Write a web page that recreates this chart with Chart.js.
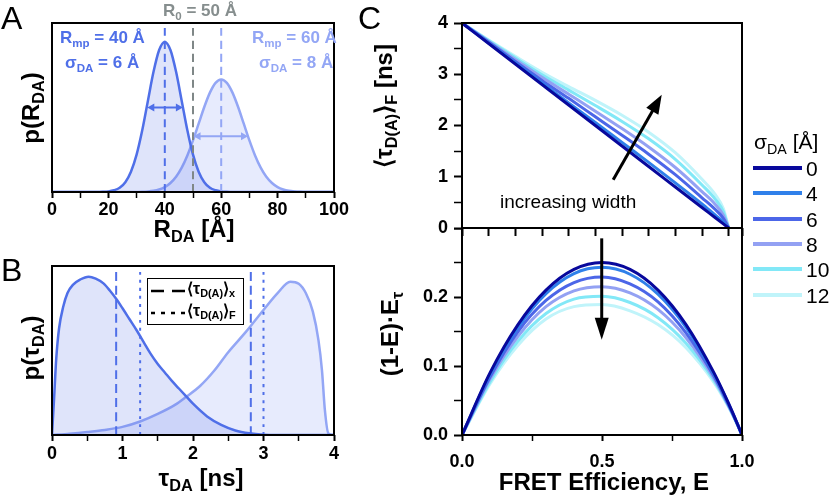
<!DOCTYPE html>
<html>
<head>
<meta charset="utf-8">
<script src="https://cdn.jsdelivr.net/npm/chart.js@4.4.1/dist/chart.umd.min.js"></script>
<style>
body { margin:0; background:#fff; width:829px; height:499px; position:relative; overflow:hidden;
       font-family:"Liberation Sans", Arial, sans-serif; }
canvas { position:absolute; }
.t { position:absolute; white-space:nowrap; line-height:1; }
.b { font-weight:bold; }
.rot { transform:translate(-50%,-50%) rotate(-90deg); }
.ctr { transform:translate(-50%,-50%); }
sub { font-size:0.68em; vertical-align:-0.32em; line-height:0; }
.lg { position:absolute; height:4px; width:49px; left:753px; }
.lt { position:absolute; left:806px; font-size:21px; line-height:1; transform:translateY(-50%); }
</style>
</head>
<body>

<canvas id="chA" width="360" height="250" style="left:0;top:0"></canvas>
<canvas id="chB" width="360" height="249" style="left:0;top:250px"></canvas>
<canvas id="chC1" width="370" height="240" style="left:400px;top:0"></canvas>
<canvas id="chC2" width="370" height="271" style="left:400px;top:228px"></canvas>

<!-- panel letters -->
<div class="t" style="left:1px;top:2px;font-size:32px">A</div>
<div class="t" style="left:1px;top:254px;font-size:32px">B</div>
<div class="t" style="left:358px;top:2px;font-size:32px">C</div>

<!-- panel A text -->
<div class="t b" style="left:200px;top:2px;font-size:17px;color:#868e8e" id="r0"></div>
<div class="t b" style="left:60px;top:29px;font-size:17px;color:#4f6fe8">R<sub>mp</sub> = 40 Å</div>
<div class="t b" style="left:65px;top:54px;font-size:17px;color:#4f6fe8">σ<sub>DA</sub> = 6 Å</div>
<div class="t b" style="left:252px;top:29px;font-size:17px;color:#93a6f5">R<sub>mp</sub> = 60 Å</div>
<div class="t b" style="left:259px;top:54px;font-size:17px;color:#93a6f5">σ<sub>DA</sub> = 8 Å</div>
<div class="t b rot" style="left:31px;top:108px;font-size:24px">p(R<sub>DA</sub>)</div>
<div class="t b ctr" style="left:194px;top:229px;font-size:24px">R<sub>DA</sub> [Å]</div>

<!-- panel B text -->
<div class="t b rot" style="left:31px;top:348px;font-size:24px">p(τ<sub>DA</sub>)</div>
<div class="t b ctr" style="left:201px;top:478px;font-size:24px">τ<sub>DA</sub> [ns]</div>
<div style="position:absolute;left:147px;top:278px;width:97px;height:47px;border:1.5px solid #000;box-sizing:border-box;background:#fff"></div>
<svg style="position:absolute;left:147px;top:278px" width="100" height="48">
  <line x1="4" y1="13" x2="38" y2="13" stroke="#000" stroke-width="2.5" stroke-dasharray="13,8"/>
  <line x1="4" y1="35" x2="38" y2="35" stroke="#000" stroke-width="2.5" stroke-dasharray="4,6"/>
</svg>
<div class="t b" style="left:187px;top:281px;font-size:16px">⟨τ<sub>D(A)</sub>⟩<sub>x</sub></div>
<div class="t b" style="left:187px;top:303px;font-size:16px">⟨τ<sub>D(A)</sub>⟩<sub>F</sub></div>

<!-- panel C text -->
<div class="t b rot" style="left:384px;top:106px;font-size:24px">⟨τ<sub>D(A)</sub>⟩<sub>F</sub> [ns]</div>
<div class="t b rot" style="left:390px;top:334px;font-size:24px">(1-E)·E<sub>τ</sub></div>
<div class="t b ctr" style="left:604px;top:482px;font-size:24px">FRET Efficiency, E</div>
<div class="t" style="left:500px;top:192px;font-size:19px">increasing width</div>
<div class="t" style="left:754px;top:131px;font-size:21px">σ<sub>DA</sub> [Å]</div>
<div id="legC"></div>

<script>
// ---------- panel A : distance distributions ----------
const rDark = [0, 16, 18, 20, 22, 24, 26, 28, 30, 32, 34, 36, 38, 40, 42, 44, 46, 48, 50, 52, 54, 56, 58, 60, 62, 64, 100];
const pDark = [0, 0, 0.001, 0.003, 0.010, 0.025, 0.058, 0.120, 0.221, 0.365, 0.539, 0.711, 0.840, 0.888,
               0.840, 0.711, 0.539, 0.365, 0.221, 0.120, 0.058, 0.025, 0.010, 0.003, 0.001, 0, 0];
const rLight = [0, 28, 30, 32, 34, 36, 38, 40, 42, 44, 46, 48, 50, 52, 54, 56, 58, 60,
                62, 64, 66, 68, 70, 72, 74, 76, 78, 80, 82, 84, 86, 88, 90, 92, 100];
const pLight = [0, 0, 0.0005, 0.001, 0.003, 0.007, 0.015, 0.029, 0.053, 0.090, 0.144, 0.216, 0.305, 0.404, 0.503, 0.588, 0.646, 0.666,
                0.646, 0.588, 0.503, 0.404, 0.305, 0.216, 0.144, 0.090, 0.053, 0.029, 0.015, 0.007, 0.003, 0.001, 0.0005, 0, 0];
const rMarks = [40, 50, 60];           // R_mp (40), R0 (50), R_mp (60)
const fwhmA = [[33.8, 46.4, 0.50], [50.2, 69.5, 0.33]];   // [from, to, height]

// ---------- panel B : lifetime distributions ----------
const tDark = [0, 0.03, 0.06, 0.1, 0.16, 0.22, 0.3, 0.4, 0.52, 0.62, 0.73, 0.82, 0.92, 1.0, 1.1, 1.2, 1.3, 1.4, 1.5, 1.6,
               1.7, 1.8, 1.9, 2.0, 2.2, 2.4, 2.6, 2.8, 3.0, 3.2, 4.0];
const qDark = [0, 0.22, 0.45, 0.63, 0.76, 0.84, 0.89, 0.92, 0.937, 0.925, 0.897, 0.855, 0.80, 0.75, 0.685, 0.62, 0.55, 0.48, 0.42, 0.37,
               0.32, 0.275, 0.23, 0.185, 0.11, 0.06, 0.027, 0.01, 0.002, 0, 0];
const tLight = [0, 0.25, 0.5, 0.75, 1.0, 1.25, 1.5, 1.75, 1.9, 2.1, 2.3, 2.5, 2.75, 3.0, 3.2, 3.38, 3.5, 3.6, 3.7, 3.78, 3.83, 3.87, 3.92, 4.0];
const qLight = [0, 0.008, 0.018, 0.03, 0.048, 0.08, 0.125, 0.18, 0.225, 0.29, 0.38, 0.49, 0.61, 0.74, 0.84, 0.907, 0.895, 0.84, 0.73, 0.56, 0.38, 0.15, 0.01, 0];
const tauX = [0.91, 2.82];   // <tau>_x  (dashed)
const tauF = [1.25, 3.00];   // <tau>_F  (dotted)

// ---------- panel C ----------
const effE = [0, 0.1, 0.2, 0.3, 0.4, 0.5, 0.6, 0.7, 0.8, 0.9, 0.95, 0.98, 1.0];
const sigmas = ['0', '4', '6', '8', '10', '12'];
const sigColors = ['#08089c', '#2f80ea', '#4c66e8', '#93a1f3', '#82e8f7', '#c0f4fa'];
const tauFluo = [
  [4, 3.60, 3.20, 2.80, 2.40, 2.00, 1.60, 1.20, 0.80, 0.40, 0.20, 0.08, 0],
  [4, 3.61, 3.22, 2.83, 2.44, 2.06, 1.67, 1.28, 0.88, 0.47, 0.25, 0.12, 0],
  [4, 3.63, 3.25, 2.88, 2.53, 2.17, 1.81, 1.44, 1.04, 0.59, 0.36, 0.19, 0],
  [4, 3.64, 3.29, 2.94, 2.61, 2.28, 1.94, 1.58, 1.18, 0.71, 0.46, 0.25, 0],
  [4, 3.66, 3.32, 2.99, 2.69, 2.39, 2.08, 1.74, 1.34, 0.84, 0.56, 0.32, 0],
  [4, 3.67, 3.35, 3.04, 2.76, 2.49, 2.20, 1.87, 1.47, 0.95, 0.65, 0.38, 0]
];
const oneMinusE = [
  [0, 0.090, 0.160, 0.210, 0.240, 0.250, 0.240, 0.210, 0.160, 0.090, 0.0475, 0.0196, 0],
  [0, 0.088, 0.156, 0.205, 0.234, 0.243, 0.233, 0.204, 0.156, 0.088, 0.047, 0.0194, 0],
  [0, 0.084, 0.150, 0.195, 0.221, 0.229, 0.219, 0.193, 0.148, 0.085, 0.045, 0.019, 0],
  [0, 0.081, 0.143, 0.186, 0.209, 0.215, 0.206, 0.182, 0.141, 0.082, 0.044, 0.0187, 0],
  [0, 0.077, 0.136, 0.176, 0.197, 0.201, 0.192, 0.170, 0.133, 0.079, 0.043, 0.0183, 0],
  [0, 0.074, 0.130, 0.168, 0.186, 0.189, 0.180, 0.160, 0.1265, 0.076, 0.042, 0.018, 0]
];
const arrowTop = [0.567, 0.94, 0.749, 2.6];     // E,tau -> E,tau
const arrowBot = [0.499, 0.285, 0.499, 0.138];

document.getElementById('r0').innerHTML = 'R<sub>0</sub> = ' + rMarks[1] + ' Å';
document.getElementById('r0').style.transform = 'translateX(-50%)';

const DARK = '#4f6fe8', LIGHT = '#93a6f5', GREY = '#7f8787';
const FONT = { family: 'Liberation Sans', size: 18, weight: 'bold' };

const pts = (xs, ys) => xs.map((x, i) => ({ x: x, y: ys[i] }));
const vline = (x, y0, y1, color, dash) => ({
  data: [{ x: x, y: y0 }, { x: x, y: y1 }], borderColor: color, borderWidth: 2,
  borderDash: dash, pointRadius: 0, fill: false
});

const boxPlugin = {
  id: 'box',
  afterDraw(chart) {
    const a = chart.chartArea, ctx = chart.ctx;
    ctx.save();
    ctx.strokeStyle = '#000';
    ctx.lineWidth = 2;
    ctx.strokeRect(a.left, a.top, a.right - a.left, a.bottom - a.top);
    ctx.restore();
  }
};

const arrowPlugin = {
  id: 'arrows',
  afterDatasetsDraw(chart, args, opts) {
    const ctx = chart.ctx, sx = chart.scales.x, sy = chart.scales.y;
    (opts.list || []).forEach(a => {
      const x1 = sx.getPixelForValue(a.x1), y1 = sy.getPixelForValue(a.y1);
      const x2 = sx.getPixelForValue(a.x2), y2 = sy.getPixelForValue(a.y2);
      const ang = Math.atan2(y2 - y1, x2 - x1);
      const head = (x, y, an) => {
        ctx.beginPath();
        ctx.moveTo(x, y);
        ctx.lineTo(x - a.L * Math.cos(an) + a.H * Math.sin(an), y - a.L * Math.sin(an) - a.H * Math.cos(an));
        ctx.lineTo(x - a.L * Math.cos(an) - a.H * Math.sin(an), y - a.L * Math.sin(an) + a.H * Math.cos(an));
        ctx.closePath();
        ctx.fill();
      };
      ctx.save();
      ctx.strokeStyle = a.color; ctx.fillStyle = a.color; ctx.lineWidth = a.w;
      ctx.beginPath();
      const s = a.both ? a.L * 0.8 : 0;
      ctx.moveTo(x1 + s * Math.cos(ang), y1 + s * Math.sin(ang));
      ctx.lineTo(x2 - a.L * 0.8 * Math.cos(ang), y2 - a.L * 0.8 * Math.sin(ang));
      ctx.stroke();
      head(x2, y2, ang);
      if (a.both) head(x1, y1, ang + Math.PI);
      ctx.restore();
    });
  }
};

// fixed axis sizes, no overflow padding, so the plot boxes land where wanted
const noPad = s => { s.paddingLeft = 0; s.paddingRight = 0; s.paddingTop = 0; s.paddingBottom = 0; };

function baseOpts(pad, yW, xH) {
  return {
    responsive: false, animation: false,
    layout: { padding: pad, autoPadding: false },
    plugins: { legend: { display: false }, tooltip: { enabled: false } },
    elements: { point: { radius: 0 }, line: { cubicInterpolationMode: 'monotone' } },
    scales: {
      x: { type: 'linear', afterFit: s => { s.height = xH; noPad(s); } },
      y: { type: 'linear', afterFit: s => { s.width = yW; noPad(s); } }
    }
  };
}

function tickGrid(len, isMajor) {
  return {
    drawOnChartArea: false, drawTicks: true, tickLength: len,
    color: '#000', tickColor: '#000',
    tickWidth: c => (isMajor(c.tick ? c.tick.value : 0) ? 2 : 1.5)
  };
}

// ----- chart A -----
const optA = baseOpts({ top: 23, right: 26, left: 0, bottom: 0 }, 52, 58);
optA.scales.x = Object.assign(optA.scales.x, {
  min: 0, max: 100, border: { display: false },
  ticks: { stepSize: 10, autoSkip: false, maxRotation: 0, color: '#000', font: FONT, padding: 1,
           callback: v => (v % 20 === 0 ? v : '') },
  grid: tickGrid(6, v => v % 20 === 0)
});
optA.scales.y = Object.assign(optA.scales.y, {
  min: 0, max: 1, border: { display: false }, ticks: { display: false }, grid: { display: false }
});
optA.plugins.arrows = {
  list: [
    { x1: fwhmA[0][0], y1: fwhmA[0][2], x2: fwhmA[0][1], y2: fwhmA[0][2], both: true, color: DARK, w: 2, L: 7, H: 4 },
    { x1: fwhmA[1][0], y1: fwhmA[1][2], x2: fwhmA[1][1], y2: fwhmA[1][2], both: true, color: LIGHT, w: 2, L: 7, H: 4 }
  ]
};
new Chart(document.getElementById('chA'), {
  type: 'line',
  data: {
    datasets: [
      vline(rMarks[0], 0, 1, DARK, [8, 5]),
      vline(rMarks[2], 0, 1, LIGHT, [8, 5]),
      vline(rMarks[1], 0, 1, GREY, [8, 5]),
      { data: pts(rDark, pDark), borderColor: DARK, borderWidth: 2.5, fill: 'origin', backgroundColor: 'rgba(95,120,232,0.20)' },
      { data: pts(rLight, pLight), borderColor: LIGHT, borderWidth: 2.5, fill: 'origin', backgroundColor: 'rgba(147,166,245,0.22)' }
    ]
  },
  options: optA,
  plugins: [arrowPlugin, boxPlugin]
});

// ----- chart B -----
const optB = baseOpts({ top: 16, right: 26, left: 0, bottom: 0 }, 52, 64);
optB.scales.x = Object.assign(optB.scales.x, {
  min: 0, max: 4, border: { display: false },
  ticks: { stepSize: 0.5, autoSkip: false, maxRotation: 0, color: '#000', font: FONT, padding: 2,
           callback: v => (Number.isInteger(v) ? v : '') },
  grid: tickGrid(6, v => Number.isInteger(v))
});
optB.scales.y = Object.assign(optB.scales.y, {
  min: 0, max: 1, border: { display: false }, ticks: { display: false }, grid: { display: false }
});
new Chart(document.getElementById('chB'), {
  type: 'line',
  data: {
    datasets: [
      vline(tauX[0], 0, 1, DARK, [9, 5]),
      vline(tauF[0], 0, 1, DARK, [3, 5]),
      vline(tauX[1], 0, 1, DARK, [9, 5]),
      vline(tauF[1], 0, 1, DARK, [3, 5]),
      { data: pts(tDark, qDark), borderColor: DARK, borderWidth: 2.5, fill: 'origin', backgroundColor: 'rgba(95,120,232,0.20)' },
      { data: pts(tLight, qLight), borderColor: LIGHT, borderWidth: 2.5, fill: 'origin', backgroundColor: 'rgba(147,166,245,0.22)' }
    ]
  },
  options: optB,
  plugins: [boxPlugin]
});

// ----- chart C top -----
const optC1 = baseOpts({ top: 23, right: 28, left: 0, bottom: 0 }, 62, 12);
optC1.scales.x = Object.assign(optC1.scales.x, {
  min: 0, max: 1.05, border: { display: false },
  ticks: { stepSize: 0.1, autoSkip: false, display: true, color: 'rgba(0,0,0,0)', font: { size: 1 }, padding: 0,
           callback: () => '' },
  grid: tickGrid(8, () => true)
});
optC1.scales.y = Object.assign(optC1.scales.y, {
  min: 0, max: 4, border: { display: false },
  ticks: { stepSize: 0.5, autoSkip: false, color: '#000', font: FONT, padding: 6,
           callback: v => (Number.isInteger(v) ? v : '') },
  grid: tickGrid(8, v => Number.isInteger(v))
});
optC1.plugins.arrows = {
  list: [{ x1: arrowTop[0], y1: arrowTop[1], x2: arrowTop[2], y2: arrowTop[3], color: '#000', w: 3, L: 19, H: 7 }]
};
new Chart(document.getElementById('chC1'), {
  type: 'line',
  data: {
    datasets: sigmas.map((s, i) => ({
      label: s, data: pts(effE, tauFluo[i]), borderColor: sigColors[i], borderWidth: 3, fill: false
    }))
  },
  options: optC1,
  plugins: [arrowPlugin, boxPlugin]
});

// ----- chart C bottom -----
const optC2 = baseOpts({ top: 0, right: 28, left: 0, bottom: 0 }, 62, 64);
optC2.scales.x = Object.assign(optC2.scales.x, {
  min: 0, max: 1, border: { display: false },
  ticks: { stepSize: 0.25, autoSkip: false, maxRotation: 0, color: '#000', font: FONT, padding: 10,
           callback: v => (Math.round(v * 100) % 50 === 0 ? v.toFixed(1) : '') },
  grid: tickGrid(6, v => Math.round(v * 100) % 50 === 0)
});
optC2.scales.y = Object.assign(optC2.scales.y, {
  min: 0, max: 0.3, border: { display: false },
  ticks: { stepSize: 0.05, autoSkip: false, color: '#000', font: FONT, padding: 6,
           callback: v => { const k = Math.round(v * 100); return (k % 10 === 0 && k < 30) ? v.toFixed(1) : ''; } },
  grid: tickGrid(8, v => Math.round(v * 100) % 10 === 0)
});
optC2.plugins.arrows = {
  list: [{ x1: arrowBot[0], y1: arrowBot[1], x2: arrowBot[2], y2: arrowBot[3], color: '#000', w: 3, L: 22, H: 7 }]
};
new Chart(document.getElementById('chC2'), {
  type: 'line',
  data: {
    datasets: sigmas.map((s, i) => ({
      label: s, data: pts(effE, oneMinusE[i]), borderColor: sigColors[i], borderWidth: 3, fill: false
    }))
  },
  options: optC2,
  plugins: [arrowPlugin, boxPlugin]
});

// ----- legend for panel C -----
const leg = document.getElementById('legC');
sigmas.forEach((s, i) => {
  const y = 168 + i * 25.3;
  leg.insertAdjacentHTML('beforeend',
    '<div class="lg" style="top:' + (y - 2) + 'px;background:' + sigColors[i] + '"></div>' +
    '<div class="lt" style="top:' + y + 'px">' + s + '</div>');
});
</script>
</body>
</html>
